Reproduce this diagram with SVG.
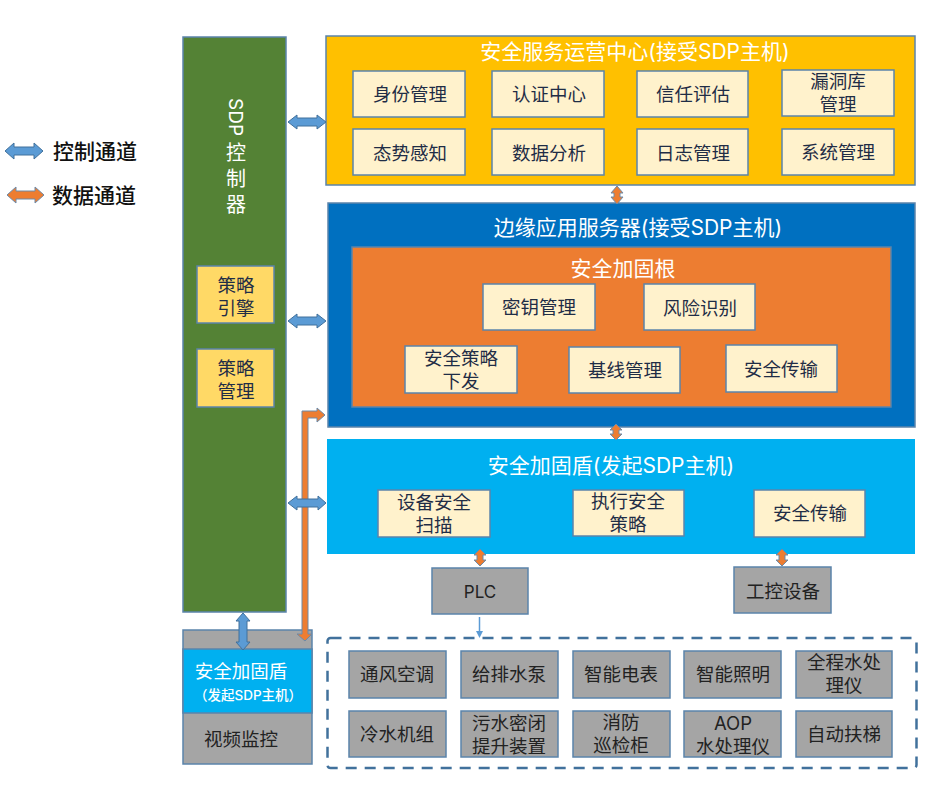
<svg xmlns="http://www.w3.org/2000/svg" width="941" height="789" viewBox="0 0 941 789">
<style>
text{font-family:"Inter","Noto Sans CJK SC","Liberation Sans",sans-serif;text-anchor:middle}
rect{stroke:#5b84ab;stroke-width:1.5}
.t{font-size:21px;fill:#fff}
.c{font-size:18.500px;fill:#1f2d46}
.k{font-size:18.500px;fill:#222}
.lg{font-size:21px;fill:#111;font-weight:500}
.cream{fill:#fff2cc}
.yl{fill:#ffd966}
.gr{fill:#a5a5a5}
.ba{fill:#5b9bd5;stroke:#41719c;stroke-width:1}
.oa{fill:#ed7d31;stroke:#6d8aa8;stroke-width:1}
</style>
<rect width="941" height="789" fill="#fff" style="stroke:none"/>
<g id="legend">
<path class="ba" d="M5 151L14 143V147H34V143L43 151L34 159V155H14V159Z"/>
<text class="lg" x="95" y="159">控制通道</text>
<path class="oa" d="M7 195L16 187V191H35V187L44 195L35 203V199H16V203Z"/>
<text class="lg" x="94" y="203">数据通道</text>
</g>
<g id="sdp-controller">
<rect x="183" y="37" width="103" height="575" fill="#548235"/>
<text x="0" y="0" transform="translate(229 98) rotate(90)" style="text-anchor:start;font-size:19px;fill:#fff">SDP</text>
<text class="t" x="236" y="160" style="font-size:20px">控</text>
<text class="t" x="236" y="186" style="font-size:20px">制</text>
<text class="t" x="236" y="212" style="font-size:20px">器</text>
</g>
<g id="policy-engine">
<rect class="yl" x="197" y="266" width="77" height="57"/>
<text class="c" x="236" y="292">策略</text><text class="c" x="236" y="315">引擎</text>
</g>
<g id="policy-mgmt">
<rect class="yl" x="197" y="349" width="77" height="58"/>
<text class="c" x="236" y="375">策略</text><text class="c" x="236" y="398">管理</text>
</g>
<g id="ops-center">
<rect x="326" y="36" width="589" height="149" fill="#ffc000"/>
<text class="t" x="635" y="59">安全服务运营中心(接受SDP主机)</text>
<rect class="cream" x="353" y="71" width="112" height="46"/><text class="c" x="410" y="101">身份管理</text>
<rect class="cream" x="492" y="71" width="112" height="46"/><text class="c" x="549" y="101">认证中心</text>
<rect class="cream" x="637" y="71" width="111" height="46"/><text class="c" x="693" y="101">信任评估</text>
<rect class="cream" x="782" y="70" width="112" height="46"/><text class="c" x="838" y="88">漏洞库</text><text class="c" x="838" y="111">管理</text>
<rect class="cream" x="353" y="129" width="112" height="46"/><text class="c" x="410" y="160">态势感知</text>
<rect class="cream" x="492" y="129" width="112" height="46"/><text class="c" x="549" y="160">数据分析</text>
<rect class="cream" x="637" y="129" width="111" height="46"/><text class="c" x="693" y="160">日志管理</text>
<rect class="cream" x="782" y="129" width="112" height="46"/><text class="c" x="838" y="159">系统管理</text>
</g>
<g id="edge-server">
<rect x="328" y="203" width="587" height="224" fill="#0070c0"/>
<text class="t" x="638" y="235">边缘应用服务器(接受SDP主机)</text>
</g>
<g id="root">
<rect x="352" y="247" width="539" height="160" fill="#ed7d31"/>
<text class="t" x="623" y="276">安全加固根</text>
<rect class="cream" x="483" y="284" width="112" height="46"/><text class="c" x="539" y="314">密钥管理</text>
<rect class="cream" x="644" y="284" width="111" height="46"/><text class="c" x="700" y="315">风险识别</text>
<rect class="cream" x="405" y="346" width="112" height="47"/><text class="c" x="461" y="365">安全策略</text><text class="c" x="461" y="388">下发</text>
<rect class="cream" x="569" y="347" width="111" height="46"/><text class="c" x="625" y="377">基线管理</text>
<rect class="cream" x="726" y="345" width="111" height="47"/><text class="c" x="781" y="376">安全传输</text>
</g>
<g id="shield">
<rect x="327" y="439" width="588" height="115" fill="#00b0f0" style="stroke:none"/>
<text class="t" x="611" y="473">安全加固盾(发起SDP主机)</text>
<rect class="cream" x="378" y="490" width="112" height="47"/><text class="c" x="434" y="509">设备安全</text><text class="c" x="434" y="532">扫描</text>
<rect class="cream" x="573" y="490" width="111" height="46"/><text class="c" x="628" y="508">执行安全</text><text class="c" x="628" y="531">策略</text>
<rect class="cream" x="754" y="490" width="111" height="47"/><text class="c" x="810" y="520">安全传输</text>
</g>
<g id="plc"><rect class="gr" x="432" y="568" width="96" height="46"/><text class="k" x="480" y="598" style="font-size:17px">PLC</text></g>
<g id="ics"><rect class="gr" x="734" y="567" width="97" height="46"/><text class="k" x="783" y="598">工控设备</text></g>
<g id="device-group">
<rect x="327.500" y="638" width="589" height="130" rx="3" fill="none" style="stroke:#41719c;stroke-width:2.500;stroke-dasharray:11 8"/>
<rect class="gr" x="349" y="651" width="97" height="47"/><text class="k" x="397" y="681">通风空调</text>
<rect class="gr" x="461" y="651" width="97" height="47"/><text class="k" x="509" y="681">给排水泵</text>
<rect class="gr" x="573" y="651" width="97" height="47"/><text class="k" x="621" y="681">智能电表</text>
<rect class="gr" x="684" y="651" width="97" height="47"/><text class="k" x="733" y="681">智能照明</text>
<rect class="gr" x="796" y="651" width="96" height="47"/><text class="k" x="844" y="669">全程水处</text><text class="k" x="844" y="692">理仪</text>
<rect class="gr" x="349" y="711" width="97" height="46"/><text class="k" x="397" y="741">冷水机组</text>
<rect class="gr" x="461" y="711" width="97" height="46"/><text class="k" x="509" y="730">污水密闭</text><text class="k" x="509" y="753">提升装置</text>
<rect class="gr" x="573" y="711" width="97" height="46"/><text class="k" x="621" y="729">消防</text><text class="k" x="621" y="752">巡检柜</text>
<rect class="gr" x="684" y="711" width="97" height="46"/><text class="k" x="733" y="730">AOP</text><text class="k" x="733" y="753">水处理仪</text>
<rect class="gr" x="796" y="711" width="96" height="46"/><text class="k" x="844" y="741">自动扶梯</text>
</g>
<g id="edge-node">
<rect class="gr" x="183" y="630" width="129" height="134"/>
<rect x="183" y="649" width="129" height="64" fill="#00b0f0"/>
<text class="t" x="241" y="678" style="font-size:18.500px">安全加固盾</text>
<text x="248" y="700" style="font-size:13.500px;fill:#fff;font-weight:500">（发起SDP主机）</text>
<text class="k" x="241" y="746">视频监控</text>
</g>
<g id="connectors">
<path class="ba" d="M288 122L297 115V118H317V115L326 122L317 129V126H297V129Z"/>
<path class="ba" d="M288 321L297 314V317H317V314L326 321L317 328V325H297V328Z"/>
<path class="oa" d="M302 411H317V408L325 415L317 422V418H308V634H312L305 641L297 634H302Z"/>
<path class="ba" d="M288 503L297 496V499H318V496L326 503L318 510V507H297V510Z"/>
<path class="ba" d="M243 613L250 621H247V642H250L243 650L236 642H239V621H236Z"/>
<path class="oa" d="M617 186L623 193H620V197H623L617 204L611 197H614V193H611Z"/>
<path class="oa" d="M616 424L622 430H619V434H622L616 440L610 434H613V430H610Z"/>
<path class="oa" d="M480 549L486 555H483V560H486L480 566L474 560H477V555H474Z"/>
<path class="oa" d="M782 549L788 555H785V560H788L782 566L776 560H779V555H776Z"/>
<path d="M479.500 617V631" stroke="#5b9bd5" stroke-width="1.500" fill="none"/>
<path d="M476 631H483L479.500 638Z" fill="#5b9bd5"/>
</g>
</svg>
